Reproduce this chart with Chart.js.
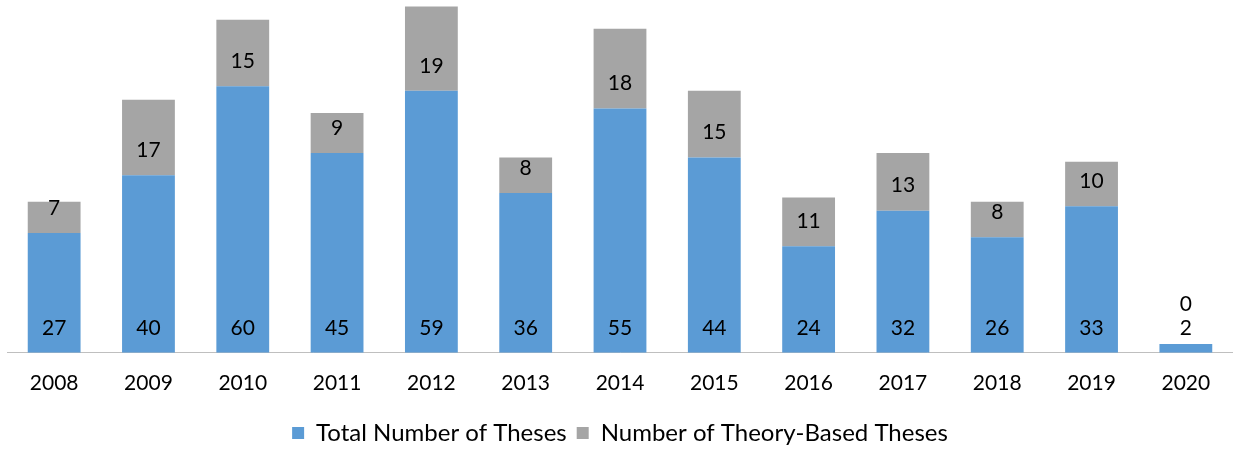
<!DOCTYPE html>
<html>
<head>
<meta charset="utf-8">
<script src="https://cdn.jsdelivr.net/npm/chart.js@4/dist/chart.umd.min.js"></script>
<style>
  html, body { margin: 0; padding: 0; background: #fff; }
  #wrap { width: 1233px; height: 455px; }
</style>
</head>
<body>
<div id="wrap"><canvas id="thesesChart" width="1233" height="455"></canvas></div>
<script>
var years = ['2008', '2009', '2010', '2011', '2012', '2013', '2014', '2015', '2016', '2017', '2018', '2019', '2020'];
var totalTheses = [27, 40, 60, 45, 59, 36, 55, 44, 24, 32, 26, 33, 2];
var theoryTheses = [7, 17, 15, 9, 19, 8, 18, 15, 11, 13, 8, 10, 0];

var fontName = 'Lato, "Open Sans", sans-serif';

// labels sit near the bottom of each segment, like Excel's "inside base"
var baseLabels = {
  id: 'baseLabels',
  afterDatasetsDraw: function (chart) {
    var ctx = chart.ctx;
    ctx.save();
    ctx.font = '21px ' + fontName;
    ctx.fillStyle = '#000';
    ctx.textAlign = 'center';
    ctx.textBaseline = 'middle';
    var lastY = [];
    chart.data.datasets.forEach(function (ds, di) {
      var meta = chart.getDatasetMeta(di);
      meta.data.forEach(function (bar, i) {
        var y = bar.base - 25;
        if (lastY[i] !== undefined && y > lastY[i] - 24) {
          y = lastY[i] - 24;
        }
        lastY[i] = y;
        ctx.fillText(ds.data[i], bar.x, y);
      });
    });
    ctx.restore();
  }
};

var chart = new Chart(document.getElementById('thesesChart').getContext('2d'), {
  type: 'bar',
  data: {
    labels: years,
    datasets: [{
      label: 'Total Number of Theses',
      data: totalTheses,
      backgroundColor: '#5B9BD5',
      barPercentage: 0.56,
      categoryPercentage: 1
    }, {
      label: 'Number of Theory-Based Theses',
      data: theoryTheses,
      backgroundColor: '#A5A5A5',
      barPercentage: 0.56,
      categoryPercentage: 1
    }]
  },
  options: {
    responsive: false,
    animation: false,
    layout: { padding: { left: 7, right: 0, top: 2, bottom: 0 } },
    scales: {
      x: {
        stacked: true,
        grid: { display: false },
        border: { color: '#BFBFBF', width: 1 },
        ticks: { color: '#000', font: { family: fontName, size: 21 }, padding: 10 },
        afterFit: function (scale) { scale.height += 5; }
      },
      y: {
        stacked: true,
        display: false,
        min: 0,
        max: 79
      }
    },
    plugins: {
      legend: {
        position: 'bottom',
        labels: {
          color: '#000',
          font: { family: fontName, size: 24 },
          boxWidth: 12,
          boxHeight: 12,
          padding: 10
        }
      },
      tooltip: { enabled: false }
    }
  },
  plugins: [baseLabels]
});
</script>
</body>
</html>
